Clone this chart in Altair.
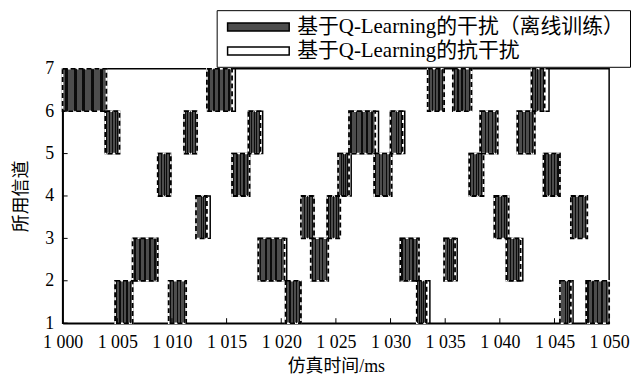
import altair as alt
import pandas as pd

JAM = "基于Q-Learning的干扰（离线训练）"
ANTI = "基于Q-Learning的抗干扰"

# jamming blocks (start ms, end ms, lower channel)
jam_start = [1000.0, 1013.2, 1033.4, 1035.7, 1042.9,
             1003.9, 1011.1, 1017.0, 1026.2, 1030.0, 1038.2, 1041.6,
             1008.7, 1015.5, 1025.2, 1028.5, 1037.2, 1044.0,
             1012.2, 1021.8, 1024.2, 1039.5, 1046.5,
             1006.4, 1017.9, 1022.7, 1030.9, 1034.9, 1040.6,
             1004.8, 1009.7, 1020.4, 1032.4, 1045.5, 1047.9]
jam_end = [1004.0, 1015.5, 1034.9, 1037.4, 1044.1,
           1005.2, 1012.3, 1018.1, 1028.6, 1031.1, 1039.8, 1043.2,
           1009.9, 1017.1, 1026.2, 1030.1, 1038.5, 1045.5,
           1013.2, 1023.0, 1025.4, 1040.8, 1048.0,
           1008.7, 1020.3, 1024.3, 1032.6, 1035.9, 1041.9,
           1006.4, 1011.3, 1021.8, 1033.3, 1046.5, 1050.0]
jam_channel = [6, 6, 6, 6, 6,
               5, 5, 5, 5, 5, 5, 5,
               4, 4, 4, 4, 4, 4,
               3, 3, 3, 3, 3,
               2, 2, 2, 2, 2, 2,
               1, 1, 1, 1, 1, 1]

# anti-jamming blocks
anti_start = list(jam_start)
anti_end = [1004.0, 1015.8, 1034.9, 1037.4, 1044.5,
            1005.2, 1012.3, 1018.3, 1028.9, 1031.3, 1039.8, 1043.2,
            1009.9, 1017.1, 1026.4, 1030.1, 1038.5, 1045.5,
            1013.5, 1023.0, 1025.4, 1040.8, 1048.0,
            1008.7, 1020.5, 1024.3, 1032.6, 1036.1, 1042.1,
            1006.4, 1011.3, 1021.8, 1033.6, 1046.7, 1050.0]
anti_channel = list(jam_channel)

x_ticks = list(range(1000, 1051, 5))
y_ticks = [1, 2, 3, 4, 5, 6, 7]

df = pd.concat([
    pd.DataFrame({"start": anti_start, "end": anti_end, "ch": anti_channel, "series": ANTI}),
    pd.DataFrame({"start": jam_start, "end": jam_end, "ch": jam_channel, "series": JAM}),
], ignore_index=True)
df["ch_top"] = df["ch"] + 1

FONT = "'Liberation Serif', 'Noto Sans CJK SC'"
XT = "仿真时间/ms"
YT = "所用信道"

xscale = alt.Scale(domain=[1000, 1050], nice=False, zero=False)
yscale = alt.Scale(domain=[1, 7], nice=False, zero=False)
fill_scale = alt.Scale(domain=[JAM, ANTI], range=["#4d4d4d", "white"])
dash_scale = alt.Scale(domain=[JAM, ANTI], range=[[5, 3], [1, 0]])

legend = alt.Legend(
    title=None, orient="none", legendX=155, legendY=-59,
    direction="vertical",
    symbolType="M-3.1,-0.4H3.1V0.4H-3.1Z", symbolSize=400,
    symbolOffset=25,
    symbolStrokeColor="black", symbolStrokeWidth=1.5,
    labelFont=FONT, labelFontSize=21, labelColor="black", labelLimit=0,
    strokeColor="black", fillColor="white", padding=6,
    rowPadding=3, labelOffset=28,
)

base = alt.Chart(df)

enc_x = alt.X("start:Q", scale=xscale, title=XT,
              axis=alt.Axis(values=x_ticks, labelOverlap=False, labelFlush=False,
                            labelExpr="replace(format(datum.value, ','), ',', ' ')"))
enc_y = alt.Y("ch:Q", scale=yscale, title=YT, axis=alt.Axis(values=y_ticks))

anti_layer = base.transform_filter(alt.datum.series == ANTI).mark_rect(
    stroke="black", strokeWidth=1.5
).encode(
    x=enc_x, x2="end:Q", y=enc_y, y2="ch_top:Q",
    fill=alt.Fill("series:N", scale=fill_scale, legend=legend),
    strokeDash=alt.StrokeDash("series:N", scale=dash_scale, legend=legend),
)

jam_base = base.transform_filter(alt.datum.series == JAM).mark_rect(
    stroke="white", strokeWidth=1.5
).encode(
    x=alt.X("start:Q", scale=xscale, title=XT), x2="end:Q",
    y=alt.Y("ch:Q", scale=yscale, title=YT), y2="ch_top:Q",
    fill=alt.Fill("series:N", scale=fill_scale, legend=legend),
)

n_str = 5
stops = []
for i in range(n_str):
    a = (i + 0.25) / n_str
    b = (i + 0.6) / n_str
    stops += [alt.GradientStop(offset=a, color="rgba(0,0,0,0)"),
              alt.GradientStop(offset=a, color="rgba(0,0,0,0.85)"),
              alt.GradientStop(offset=b, color="rgba(0,0,0,0.85)"),
              alt.GradientStop(offset=b, color="rgba(0,0,0,0)")]
stripe_grad = alt.LinearGradient(gradient="linear", stops=stops, x1=0, x2=1, y1=0, y2=0)

jam_stripes = base.transform_filter(alt.datum.series == JAM).mark_rect(
    fill=stripe_grad
).encode(
    x=alt.X("start:Q", scale=xscale, title=XT), x2="end:Q",
    y=alt.Y("ch:Q", scale=yscale, title=YT), y2="ch_top:Q",
)

jam_dash = base.transform_filter(alt.datum.series == JAM).mark_rect(
    fillOpacity=0, stroke="black", strokeWidth=1.8, strokeDash=[5, 3]
).encode(
    x=alt.X("start:Q", scale=xscale, title=XT), x2="end:Q",
    y=alt.Y("ch:Q", scale=yscale, title=YT), y2="ch_top:Q",
)

xtick_layer = alt.Chart(pd.DataFrame({"t": x_ticks})).mark_rule(
    color="black", strokeWidth=1
).encode(
    x=alt.X("t:Q", scale=xscale, title=XT), y=alt.value(256), y2=alt.value(251)
)
ytick_layer = alt.Chart(pd.DataFrame({"c": y_ticks})).mark_rule(
    color="black", strokeWidth=1
).encode(
    y=alt.Y("c:Q", scale=yscale, title=YT), x=alt.value(0), x2=alt.value(5)
)

chart = alt.layer(
    anti_layer, jam_base, jam_stripes, jam_dash, xtick_layer, ytick_layer
).properties(
    width=550, height=256,
    background="white",
    autosize=alt.AutoSizeParams(type="none"),
    padding={"left": 55, "top": 60, "right": 22, "bottom": 54},
).configure_view(
    stroke="black", strokeWidth=1.5
).configure_axis(
    domainColor="black", domainWidth=1.5, ticks=False, grid=False,
    labelFont=FONT, labelFontSize=18, labelColor="black",
    titleFont=FONT, titleFontSize=18, titleColor="black", titleFontWeight="normal",
    labelPadding=8,
).configure_axisX(
    titlePadding=7, labelPadding=10
).configure_axisY(
    titlePadding=14, labelPadding=9
)

chart.save("out.html", embed_options={"renderer": "svg", "actions": False})
